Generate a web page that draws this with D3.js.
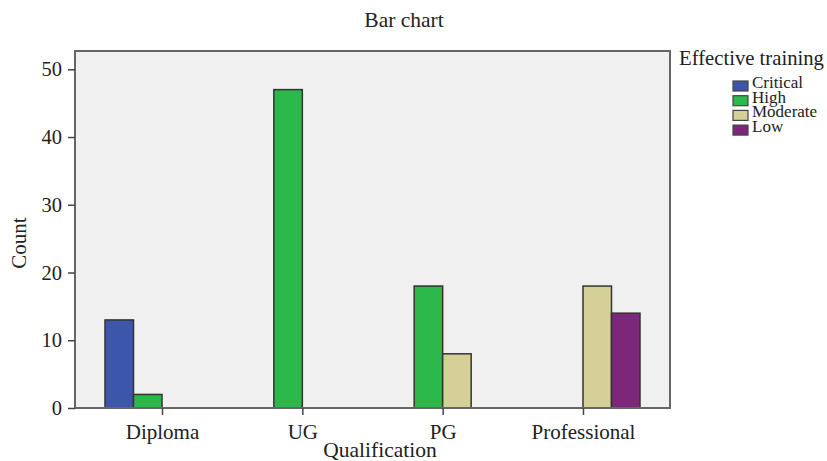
<!DOCTYPE html>
<html><head><meta charset="utf-8">
<script src="https://cdn.jsdelivr.net/npm/d3@7"></script>
<style>body{margin:0;background:#fff}svg{display:block}text{font-family:"Liberation Serif","Times New Roman",serif;fill:#222}</style>
</head><body><svg id="c" width="827" height="461"></svg>
<script>
const categories = ["Diploma","UG","PG","Professional"];
const seriesNames = ["Critical","High","Moderate","Low"];
const critical = [13,0,0,0];
const high = [2,47,18,0];
const moderate = [0,0,8,18];
const low = [0,0,0,14];
const yTicks = [0,10,20,30,40,50];
const colors = ["#3b56aa","#2db84b","#d5cf98","#7e2679"];
const series = [critical, high, moderate, low];

const svg = d3.select("#c");
const L=75,R=670,T=51,B=408;
const x = d3.scalePoint().domain(categories).range([L,R]).padding(0.62);
const y = d3.scaleLinear().domain([0,52.7]).range([B,T]);
const bw = 28.5;
const sub = d3.scaleBand().domain(seriesNames).range([-2*bw,2*bw]);

svg.append("rect").attr("x",L).attr("y",T).attr("width",R-L).attr("height",B-T).attr("fill","#f0f0f0");

series.forEach((vals,si)=>{
  const data = vals.map((v,i)=>({c:categories[i],v})).filter(d=>d.v>0);
  svg.append("g").selectAll("rect").data(data)
    .join("rect")
    .attr("x",d=>x(d.c)+sub(seriesNames[si]))
    .attr("width",sub.bandwidth())
    .attr("y",d=>y(d.v)).attr("height",d=>B-y(d.v))
    .attr("fill",colors[si]).attr("stroke","#333").attr("stroke-width",1.5);
});

svg.append("rect").attr("x",L).attr("y",T).attr("width",R-L).attr("height",B-T).attr("fill","none").attr("stroke","#666").attr("stroke-width",2);

const ya = svg.append("g").attr("transform",`translate(${L},0)`).call(d3.axisLeft(y).tickValues(yTicks).tickSize(7).tickPadding(6));
ya.select(".domain").remove();
ya.selectAll("line").attr("stroke","#444").attr("stroke-width",1.5);
ya.selectAll("text").attr("font-size",20.5).style("font-family","Liberation Serif").attr("fill","#222");

const xa = svg.append("g").attr("transform",`translate(0,${B})`).call(d3.axisBottom(x).tickSize(7).tickPadding(9));
xa.select(".domain").remove();
xa.selectAll("line").attr("stroke","#444").attr("stroke-width",1.5);
xa.selectAll("text").attr("font-size",21).style("font-family","Liberation Serif").attr("fill","#222");

svg.append("text").attr("x",404).attr("y",27).attr("text-anchor","middle").attr("font-size",21.5).text("Bar chart");
svg.append("text").attr("x",380).attr("y",457).attr("text-anchor","middle").attr("font-size",21.5).text("Qualification");
svg.append("text").attr("transform","translate(26,243) rotate(-90)").attr("text-anchor","middle").attr("font-size",21).text("Count");

svg.append("text").attr("x",679).attr("y",65).attr("font-size",20.7).text("Effective training");
const lg = svg.append("g").selectAll("g").data(seriesNames).join("g")
  .attr("transform",(d,i)=>`translate(733,${81+i*14.7})`);
lg.append("rect").attr("width",15).attr("height",10).attr("fill",(d,i)=>colors[i]).attr("stroke","#444").attr("stroke-width",1.2);
lg.append("text").attr("x",19).attr("y",7).attr("font-size",17).text(d=>d);
</script></body></html>
